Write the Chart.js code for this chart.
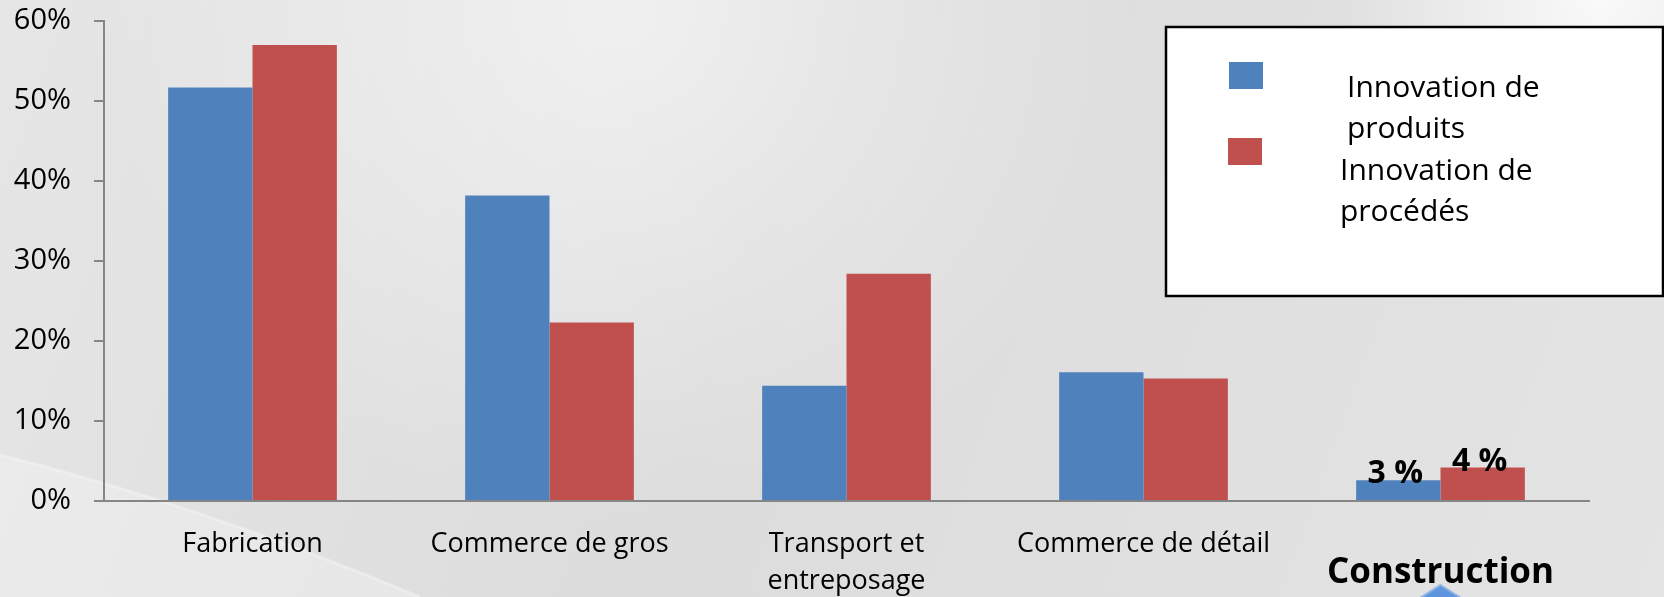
<!DOCTYPE html>
<html>
<head>
<meta charset="utf-8">
<script src="https://cdn.jsdelivr.net/npm/chart.js@4.4.0/dist/chart.umd.min.js"></script>
<style>
  html, body { margin: 0; padding: 0; background: #e0e0e0; }
  #wrap { width: 1664px; height: 597px; }
</style>
</head>
<body>
<div id="wrap"><canvas id="barChart" width="1664" height="597"></canvas></div>
<script>
// donnees (en %)
var categories = ['Fabrication', 'Commerce de gros', ['Transport et', 'entreposage'], 'Commerce de détail', 'Construction'];
var seriesNames = [['Innovation de', 'produits'], ['Innovation de', 'procédés']];
var produits = [51.7, 38.2, 14.4, 16.1, 2.6];
var procedes = [57.0, 22.3, 28.4, 15.3, 4.2];
var yTicks = [0, 10, 20, 30, 40, 50, 60];
var colors = ['#4F81BD', '#C0504D'];

var lastIdx = categories.length - 1;
var police = "'Open Sans'";

//-------------
//- FOND -
//-------------
var fondPlugin = {
  id: 'fond',
  beforeDraw: function (chart) {
    var c = chart.ctx, w = chart.width, h = chart.height
    c.save()
    var g = c.createLinearGradient(0, 0, w, h)
    g.addColorStop(0, '#e6e6e6')
    g.addColorStop(0.45, '#dcdcdc')
    g.addColorStop(1, '#e4e4e4')
    c.fillStyle = g
    c.fillRect(0, 0, w, h)

    var r = c.createRadialGradient(620, 10, 0, 620, 10, 520)
    r.addColorStop(0, 'rgba(255,255,255,0.55)')
    r.addColorStop(1, 'rgba(255,255,255,0)')
    c.fillStyle = r
    c.fillRect(0, 0, w, h)

    var r2 = c.createRadialGradient(1600, 0, 0, 1600, 0, 260)
    r2.addColorStop(0, 'rgba(255,255,255,0.8)')
    r2.addColorStop(1, 'rgba(255,255,255,0)')
    c.fillStyle = r2
    c.fillRect(0, 0, w, h)

    // courbe claire en bas a gauche
    c.beginPath()
    c.moveTo(0, 455)
    c.quadraticCurveTo(200, 505, 420, 597)
    c.lineTo(0, 597)
    c.closePath()
    c.fillStyle = 'rgba(255,255,255,0.25)'
    c.fill()
    c.beginPath()
    c.moveTo(0, 455)
    c.quadraticCurveTo(200, 505, 420, 597)
    c.strokeStyle = 'rgba(255,255,255,0.3)'
    c.lineWidth = 3
    c.stroke()

    // losange bleu sous "Construction"
    var cx = chart.scales.x.getPixelForValue(lastIdx)
    c.beginPath()
    c.moveTo(cx, 585)
    c.lineTo(cx + 63, 625)
    c.lineTo(cx, 665)
    c.lineTo(cx - 63, 625)
    c.closePath()
    c.fillStyle = '#5f95dc'
    c.fill()
    c.strokeStyle = '#8fb4e6'
    c.lineWidth = 2
    c.stroke()
    c.restore()
  }
}

//-------------
//- ETIQUETTES -
//-------------
var etiquettesPlugin = {
  id: 'etiquettes',
  afterDatasetsDraw: function (chart) {
    var c = chart.ctx
    c.save()
    c.font = 'bold 32px ' + police
    c.fillStyle = '#000'
    c.textAlign = 'center'
    c.textBaseline = 'middle'
    chart.data.datasets.forEach(function (ds, i) {
      var bar = chart.getDatasetMeta(i).data[lastIdx]
      c.fillText(Math.round(ds.data[lastIdx]) + ' %', bar.x - 3, bar.y - 6)
    })
    c.restore()
  }
}

//-------------
//- LEGENDE -
//-------------
var legendePlugin = {
  id: 'legende',
  afterDraw: function (chart) {
    var c = chart.ctx
    c.save()
    c.fillStyle = '#ffffff'
    c.fillRect(1166, 27, 497, 269)
    c.strokeStyle = '#000000'
    c.lineWidth = 2.5
    c.strokeRect(1166, 27, 497, 269)

    var boxes = [[1229, 62], [1228, 138]]
    var textX = [1347, 1340]
    var base = [97, 180]
    c.font = '30px ' + police
    c.textBaseline = 'alphabetic'
    c.textAlign = 'left'
    chart.data.datasets.forEach(function (ds, i) {
      c.fillStyle = ds.backgroundColor
      c.fillRect(boxes[i][0], boxes[i][1], 34, 27)
      c.fillStyle = '#000'
      seriesNames[i].forEach(function (line, j) {
        c.fillText(line, textX[i], base[i] + j * 40.5)
      })
    })
    c.restore()
  }
}

var barChartCanvas = document.getElementById('barChart').getContext('2d')

var barChartData = {
  labels: categories,
  datasets: [
    {
      label: seriesNames[0].join(' '),
      backgroundColor: colors[0],
      data: produits
    },
    {
      label: seriesNames[1].join(' '),
      backgroundColor: colors[1],
      data: procedes
    }
  ]
}

var barChartOptions = {
  responsive: false,
  maintainAspectRatio: false,
  animation: false,
  categoryPercentage: 0.568,
  barPercentage: 1,
  layout: { padding: { top: 21, right: 75, left: 0, bottom: 0 } },
  plugins: {
    legend: { display: false },
    tooltip: { enabled: false }
  },
  scales: {
    x: {
      grid: { drawOnChartArea: false, drawTicks: false },
      border: { color: '#868686', width: 2 },
      ticks: {
        color: '#000',
        padding: 25,
        maxRotation: 0,
        autoSkip: false,
        font: function (ctx) {
          if (ctx.index === lastIdx) return { family: police, size: 35, weight: 'bold', lineHeight: 2.68 }
          return { family: police, size: 27, lineHeight: 1.36 }
        }
      },
      afterFit: function (scale) { scale.height = 96 }
    },
    y: {
      min: 0,
      max: 60,
      grid: { drawOnChartArea: false, drawTicks: true, tickLength: 10, color: '#868686', lineWidth: 2 },
      border: { color: '#868686', width: 2 },
      ticks: {
        color: '#000',
        padding: 23,
        font: { family: police, size: 29 },
        callback: function (v) { return v + '%' }
      },
      afterBuildTicks: function (scale) {
        scale.ticks = yTicks.map(function (v) { return { value: v } })
      },
      afterFit: function (scale) {
        scale.width = 104
        scale.paddingTop = 18
        scale.paddingBottom = 18
      }
    }
  }
}

var barChart = new Chart(barChartCanvas, {
  type: 'bar',
  data: barChartData,
  options: barChartOptions,
  plugins: [fondPlugin, etiquettesPlugin, legendePlugin]
})
</script>
</body>
</html>
